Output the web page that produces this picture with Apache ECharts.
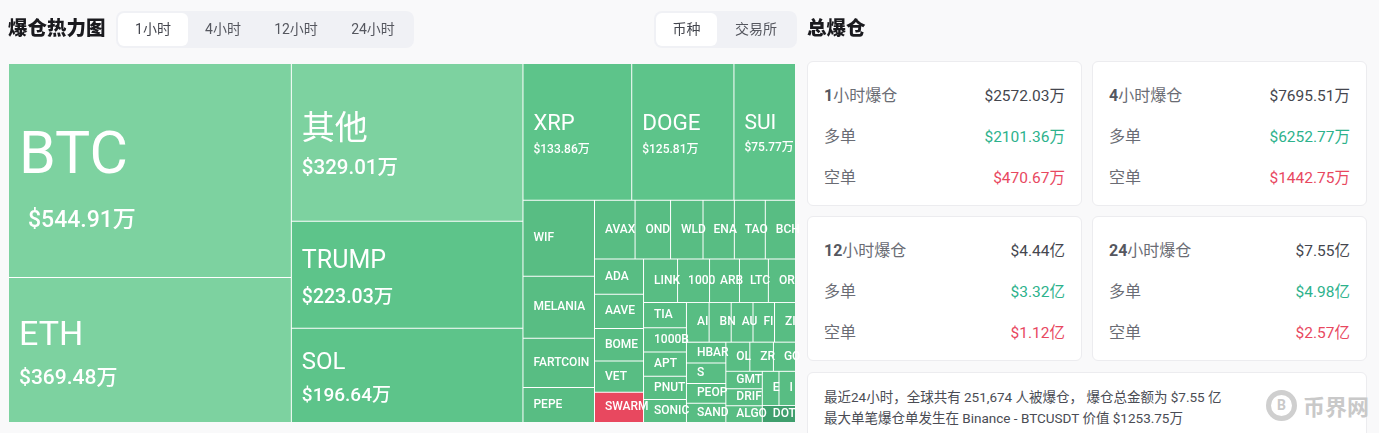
<!DOCTYPE html>
<html><head><meta charset="utf-8">
<script src="https://cdn.jsdelivr.net/npm/echarts@6/dist/echarts.min.js"></script>
<style>
html,body{margin:0;padding:0;width:1379px;height:433px;overflow:hidden;background:#f9f9fa;font-family:Roboto,"Noto Sans CJK SC",sans-serif;color:#1b1b1f}
#chart{position:absolute;left:0;top:0;width:800px;height:433px}
.abs{position:absolute}
.h{font-weight:900;font-size:19.5px;line-height:24px;color:#1a1a1e}
.tabs{position:absolute;display:flex;background:#f0f1f5;border-radius:8px;height:37px;padding:0 2px;align-items:center;font-size:14px;color:#55575f;box-sizing:border-box}
.tabs span{display:block;flex:none;height:33px;line-height:33px;text-align:center;border-radius:6px}
.tabs .on{background:#fff;color:#44464e}
.card{position:absolute;background:#fff;border:1px solid #ececef;border-radius:6px;box-sizing:border-box;width:275px;height:145px}
.row{position:absolute;left:16px;right:16px;height:24px;line-height:24px;display:flex;justify-content:space-between;font-size:16px;color:#6a6c74}
.row b{font-weight:400;color:#44464e;font-size:15.5px}
.row .k em{font-style:normal;font-weight:700;color:#55575f}
.up{color:#2db28c!important}.dn{color:#e8485f!important}
.note{position:absolute;left:807px;top:372px;width:560px;height:70px;background:#fff;border:1px solid #ececef;border-radius:6px;box-sizing:border-box;padding:14px 16px;font-size:13.5px;line-height:21px;color:#4a4c54}
.wm{position:absolute;left:1266px;top:389px;display:flex;align-items:center;color:#c9c9c9;font-size:22px;font-weight:700}
.wm i{display:block;width:31px;height:31px;border:5px solid #cfcfcf;border-radius:50%;box-sizing:border-box;font-style:normal;font-size:14px;line-height:21px;text-align:center;margin-right:6px}
</style></head><body>
<div id="chart"></div>
<div class="abs h" style="left:8px;top:17px">爆仓热力图</div>
<div class="tabs" id="tabsA" style="left:116px;top:11px;width:298px"></div>
<div class="tabs" id="tabsB" style="left:654px;top:11px;width:143px"></div>
<div class="abs h" style="left:807px;top:17px">总爆仓</div>
<div id="cards"></div>
<div class="note">最近24小时，全球共有 251,674 人被爆仓， 爆仓总金额为 $7.55 亿<br>最大单笔爆仓单发生在 Binance - BTCUSDT 价值 $1253.75万</div>
<div class="wm"><i>B</i>币界网</div>
<script>
const names=['BTC','ETH','其他','TRUMP','SOL','XRP','DOGE','SUI','WIF','MELANIA','FARTCOIN','PEPE','AVAX','OND','WLD','ENA','TAO','BCH','ADA','AAVE','BOME','VET','SWARM','LINK','1000','ARB','LTC','OR','TIA','1000B','APT','PNUT','SONIC','AI','BN','AU','FI','ZI','HBAR','S','PEOP','SAND','OL','ZR','GO','GMT','DRIF','ALGO','E','I','DOT'];
const values=[544.91,369.48,329.01,223.03,196.64,133.86,125.81,75.77,49,40,31.6,22.6,21.5,18.8,17.2,16.6,16.4,16,15.6,15.1,14.3,13.8,13.4,13.3,12.5,11.7,11.3,10.6,9.8,9.4,9.3,9.0,8.9,8.1,7.9,7.8,7.7,7.5,7.4,7.3,7.0,6.8,6.3,6.2,5.8,5.7,5.6,5.5,5.15,5.1,5.05];
const amountLabels={BTC:'$544.91万',ETH:'$369.48万','其他':'$329.01万',TRUMP:'$223.03万',SOL:'$196.64万',XRP:'$133.86万',DOGE:'$125.81万',SUI:'$75.77万'};
const colorTiers={light:'#7dd2a0',mid:'#5dc48a',low:'#58bd83',deep:'#3f9f6d',red:'#e8485f'};
const lightNames=['BTC','ETH','其他'];
const midNames=['TRUMP','SOL','XRP','DOGE','SUI'];
const tabsA=['1小时','4小时','12小时','24小时'];
const tabsAWidths=[70,70,76,78];
const tabsB=['币种','交易所'];
const cardTitles=['1小时爆仓','4小时爆仓','12小时爆仓','24小时爆仓'];
const cardTotals=['$2572.03万','$7695.51万','$4.44亿','$7.55亿'];
const cardLongs=['$2101.36万','$6252.77万','$3.32亿','$4.98亿'];
const cardShorts=['$470.67万','$1442.75万','$1.12亿','$2.57亿'];

tabsA.forEach((t,i)=>{const s=document.createElement('span');s.textContent=t;s.style.width=tabsAWidths[i]+'px';if(i==0)s.className='on';document.getElementById('tabsA').appendChild(s)});
tabsB.forEach((t,i)=>{const s=document.createElement('span');s.textContent=t;s.style.width=(i==0?61:78)+'px';if(i==0)s.className='on';document.getElementById('tabsB').appendChild(s)});
cardTitles.forEach((t,i)=>{
  const d=document.createElement('div');d.className='card';
  d.style.left=(i%2?1092:807)+'px';d.style.top=(i<2?61:216)+'px';
  d.innerHTML=`<div class="row" style="top:22px"><span class="k">${t.replace(/^\d+/,m=>'<em>'+m+'</em>')}</span><b>${cardTotals[i]}</b></div>
  <div class="row" style="top:63px"><span class="k">多单</span><b class="up">${cardLongs[i]}</b></div>
  <div class="row" style="top:104px"><span class="k">空单</span><b class="dn">${cardShorts[i]}</b></div>`;
  document.getElementById('cards').appendChild(d);
});
// name size, value size, name centre below cell top, gap name->value, value indent
const bigStyles={BTC:[59,23,94,63,9],ETH:[34,21,59,42,0],'其他':[33,20.5,67,38,0],TRUMP:[25,19.5,40,36,0],SOL:[24,19,34,34,0],XRP:[22,12,60,26,0],DOGE:[22.5,12,60,26,0],SUI:[21,12,60,24,0]};
function color(n){
  if(n==='SWARM')return colorTiers.red;
  if(n==='DOT')return colorTiers.deep;
  if(lightNames.includes(n))return colorTiers.light;
  if(midNames.includes(n))return colorTiers.mid;
  return colorTiers.low;
}
const FF='Roboto,"Noto Sans CJK SC"';
const data=names.map((n,i)=>{
  const o={name:n,value:values[i],itemStyle:{color:color(n)}};
  const b=bigStyles[n];
  if(b){
    const L1=b[0]*1.2;
    o.label={position:[10,0],align:'left',verticalAlign:'top',padding:0,
      formatter:`{s| }\n{n|${n}}\n{v|${amountLabels[n]}}`,rich:{
      s:{fontSize:1,lineHeight:b[2]-L1/2},
      n:{fontSize:b[0],color:'#fff',fontWeight:400,fontFamily:FF,lineHeight:L1},
      v:{fontSize:b[1],color:'#fff',fontWeight:500,fontFamily:FF,lineHeight:2*(b[3]-L1/2),padding:[0,0,0,b[4]]}
    }};
  }
  return o;
});
const chart=echarts.init(document.getElementById('chart'),null,{renderer:'canvas'});
chart.setOption({
  animation:false,
  backgroundColor:'transparent',
  series:[{
    type:'treemap',left:9,top:64,width:786,height:358,
    roam:false,nodeClick:false,breadcrumb:{show:false},
    itemStyle:{borderColor:'#fff',borderWidth:0,gapWidth:1},
    label:{show:true,position:'left',align:'left',verticalAlign:'middle',distance:0,padding:[0,0,0,10],color:'#fff',fontSize:12,fontWeight:500,fontFamily:'Roboto',overflow:'none'},
    upperLabel:{show:false},
    levels:[{itemStyle:{gapWidth:1,borderWidth:0,borderColor:'#fff'}}],
    data
  }]
});
</script></body></html>
